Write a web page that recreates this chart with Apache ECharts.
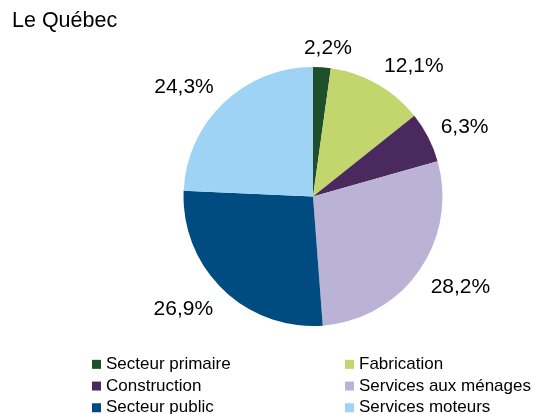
<!DOCTYPE html>
<html>
<head>
<meta charset="utf-8">
<script src="https://cdn.jsdelivr.net/npm/echarts@6/dist/echarts.min.js"></script>
<style>
html,body{margin:0;padding:0;background:#fff;}
#chart{width:533px;height:414px;}
</style>
</head>
<body>
<div id="chart"></div>
<script>
const titleText = "Le Québec";
const categories = ["Secteur primaire", "Fabrication", "Construction", "Services aux ménages", "Secteur public", "Services moteurs"];
const values = [2.2, 12.1, 6.3, 28.2, 26.9, 24.3];
const colors = ["#1D4F2B", "#C3D56D", "#4A2A5E", "#BAB3D6", "#004C80", "#9FD3F5"];
const legendLeft = ["Secteur primaire", "Construction", "Secteur public"];
const legendRight = ["Fabrication", "Services aux ménages", "Services moteurs"];

const CX = 313, CY = 196.5, R = 129.5, GX = 14, GY = 11, KX = 3, KY = 1.5, HH = 10, DY = 2;
const total = values.reduce((a, b) => a + b, 0);
const midAngles = [];
{
  let acc = 0;
  values.forEach(v => { midAngles.push((acc + v / 2) / total * 2 * Math.PI); acc += v; });
}
const clamp = (v) => Math.max(-1, Math.min(1, v));
const font = "'Liberation Sans', Arial, sans-serif";

const legendBase = {
  type: 'plain', orient: 'vertical', top: 353.5, height: 80, width: 200, padding: 0,
  itemWidth: 9, itemHeight: 9, itemGap: 0, icon: 'rect', selectedMode: false,
  textStyle: {fontFamily: font, fontSize: 17, color: '#000', lineHeight: 21.7}
};

const chart = echarts.init(document.getElementById('chart'), null, {renderer: 'canvas'});
chart.setOption({
  backgroundColor: '#fff',
  animation: false,
  title: {
    text: titleText, left: 12, top: 10.5, padding: 0,
    textStyle: {fontFamily: font, fontSize: 21.5, fontWeight: 'normal', color: '#000'}
  },
  legend: [
    Object.assign({}, legendBase, {data: legendLeft, left: 92}),
    Object.assign({}, legendBase, {data: legendRight, left: 345})
  ],
  series: [{
    type: 'pie',
    center: [CX, CY],
    radius: [0, R],
    startAngle: 90,
    clockwise: true,
    avoidLabelOverlap: false,
    silent: true,
    data: categories.map((c, i) => ({name: c, value: values[i], itemStyle: {color: colors[i]}})),
    label: {
      show: true, position: 'outside',
      fontFamily: font, fontSize: 21, color: '#000',
      formatter: p => p.value.toFixed(1).replace('.', ',') + '%'
    },
    labelLine: {show: false},
    labelLayout: function (p) {
      const a = midAngles[p.dataIndex];
      const s = Math.sin(a), c = Math.cos(a);
      const w = p.labelRect.width;
      const ax = CX + (R + GX) * s, ay = CY - (R + GY) * c;
      return {
        x: ax + (w / 2) * clamp(s * KX),
        y: ay - HH * clamp(c * KY) + DY,
        align: 'center', verticalAlign: 'middle'
      };
    }
  }]
});
</script>
</body>
</html>
